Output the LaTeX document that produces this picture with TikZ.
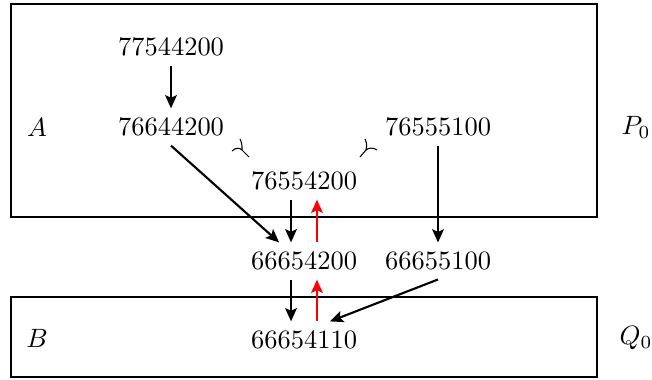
\documentclass[tikz,border=0pt]{standalone}
\usepackage{amsmath,amssymb}
\usepackage{tikz}
\usetikzlibrary{arrows.meta,positioning,calc}

\begin{document}
\begin{tikzpicture}[
        x=0.3774pt, y=-0.3774pt,
        >={Stealth[length=5pt,width=4.4pt,inset=1pt]},
        num/.style={inner sep=3.33pt},
        region/.style={draw=black, line width=0.4pt},
        down/.style={->, thick, draw=black},
        up/.style={->, thick, draw=red},
        curl/.style={draw=black, line width=0.4pt}
    ]
    \useasboundingbox (0,0) rectangle (652,379);

    % regions
    \draw[region] (11,4) rectangle (597,217);
    \draw[region] (11,297) rectangle (597,377);
    \node (lab_a) at (37,127) {$A$};
    \node (lab_p) at (636,127) {$P_0$};
    \node (lab_b) at (37,338) {$B$};
    \node (lab_q) at (636,338) {$Q_0$};

    % states
    \node[num] (n77544200) at (171,47) {77544200};
    \node[num] (n76644200) at (171,127) {76644200};
    \node[num] (n76555100) at (438,127) {76555100};
    \node[num] (n76554200) at (304,181) {76554200};
    \node[num] (n66654200) at (304,261) {66654200};
    \node[num] (n66655100) at (438,261) {66655100};
    \node[num] (n66654110) at (304,340) {66654110};

    % marks
    \draw[curl] (240,139) .. controls (242,144) .. (242,150);
    \draw[curl] (232,151) .. controls (236,147) and (240,148) .. (242,150) -- (249,157);
    \draw[curl] (365,139) .. controls (367,144) .. (366,150);
    \draw[curl] (377,150) .. controls (373,147) and (368,148) .. (366,150) -- (360,157);

    % transitions
    \draw[down] (n77544200) -- (n76644200);
    \draw[down] (n76644200.south) -- ([xshift=-9.4pt]n66654200.north);
    \draw[down] ([xshift=-4.9pt]n76554200.south) -- ([xshift=-4.9pt]n66654200.north);
    \draw[up] ([xshift=4.9pt]n66654200.north) -- ([xshift=4.9pt]n76554200.south);
    \draw[down] (n76555100) -- (n66655100);
    \draw[down] ([xshift=-4.9pt]n66654200.south) -- ([xshift=-4.9pt]n66654110.north);
    \draw[up] ([xshift=4.9pt]n66654110.north) -- ([xshift=4.9pt]n66654200.south);
    \draw[down] (n66655100.south) -- ([xshift=9.8pt]n66654110.north);

\end{tikzpicture}
\end{document}
